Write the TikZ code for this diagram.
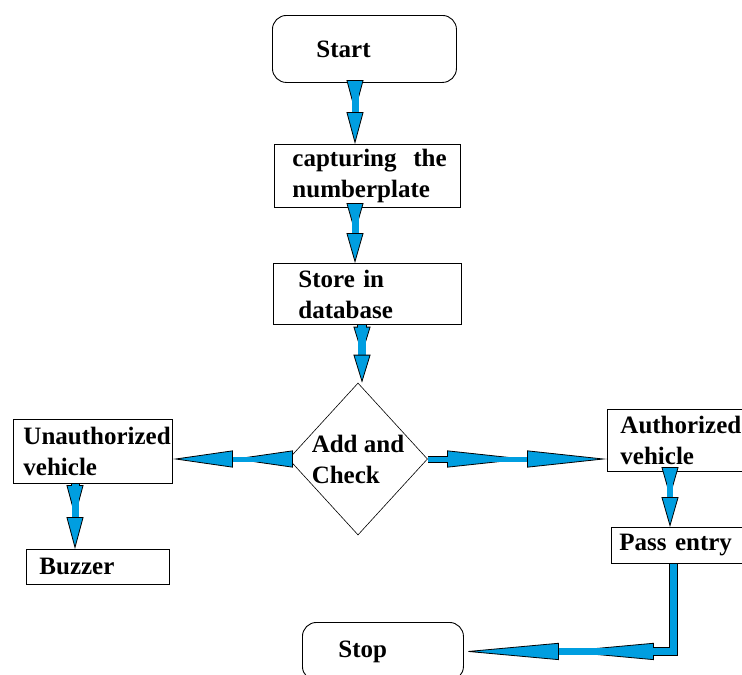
\documentclass[tikz,border=0pt]{standalone}
\usepackage{fontspec}
\setmainfont{Liberation Serif}
\usetikzlibrary{arrows.meta,shapes.geometric}
\definecolor{flowblue}{RGB}{0,158,224}
\tikzset{
  blk/.style={draw, line width=0.9pt, anchor=north west, align=left, inner ysep=0pt,
    font=\bfseries\fontsize{25}{31}\selectfont},
  term/.style={blk, rounded corners=14pt},
  flow/.style n args={3}{line width=#1, draw=flowblue,
    -{Triangle[length=#3, width=17pt, fill=flowblue, color=black, line width=0.8pt]},
    preaction={draw=black, line width=#2, shorten >=#3}}
}
\begin{document}
\begin{tikzpicture}[x=1pt,y=-1pt]
    \useasboundingbox (0,0) rectangle (742,675);
    \clip (0,0) rectangle (742,675);
    % boxes
    \node[term, text width=96pt, inner xsep=44pt, minimum height=67pt] (start) at (272,15) {Start};
    \node[blk, text width=150pt, inner xsep=18pt, minimum height=63pt] (capture) at (274,144) {\mbox{capturing\ \ the}\\numberplate};
    \node[blk, text width=138pt, inner xsep=25pt, minimum height=61pt] (store) at (273,263) {Store in\\database};
    \node[diamond, draw, line width=0.6pt, minimum width=139pt, minimum height=152pt, aspect=0.91,
          inner sep=0pt, align=left, font=\bfseries\fontsize{25}{31}\selectfont] (check) at (358,459) {Add and\\Check};
    \node[blk, text width=139pt, inner xsep=10pt, minimum height=64pt] (unauth) at (13,419) {Unauthorized\\vehicle};
    \node[blk, text width=117pt, inner xsep=13pt, minimum height=35pt] (buzzer) at (26,549) {Buzzer};
    \node[blk, text width=124pt, inner xsep=13pt, minimum height=62pt] (auth) at (607,409) {Authorized\\vehicle};
    \node[blk, text width=134pt, inner xsep=8pt, minimum height=36pt] (pass) at (611,527) {Pass entry};
    \node[term, text width=89pt, inner xsep=36pt, minimum height=58pt] (stop) at (302,622) {Stop};
    % arrows
    \draw[flow={7pt}{9pt}{32pt}] ([xshift=83]start.south west) -- ([xshift=83]start.south west |- capture.north);
    \draw[flow={7pt}{9pt}{30pt}] ([xshift=81]capture.south west) -- ([xshift=81]capture.south west |- store.north);
    \draw[flow={8pt}{10pt}{28pt}] ([xshift=89]store.south west) -- ([xshift=89]store.south west |- check.north);
    \draw[flow={5pt}{7pt}{60pt}] (check.west) -- (check.west -| unauth.east);
    \draw[flow={5pt}{7pt}{80pt}] (check.east) -- (check.east -| auth.west);
    \draw[flow={7pt}{9pt}{32pt}] ([xshift=62]unauth.south west) -- ([xshift=62]unauth.south west |- buzzer.north);
    \draw[flow={6pt}{8pt}{30pt}] ([xshift=63]auth.south west) -- ([xshift=63]auth.south west |- pass.north);
    \draw[flow={7pt}{9pt}{95pt}] ([xshift=62]pass.south west) |- (stop.east);
\end{tikzpicture}
\end{document}
